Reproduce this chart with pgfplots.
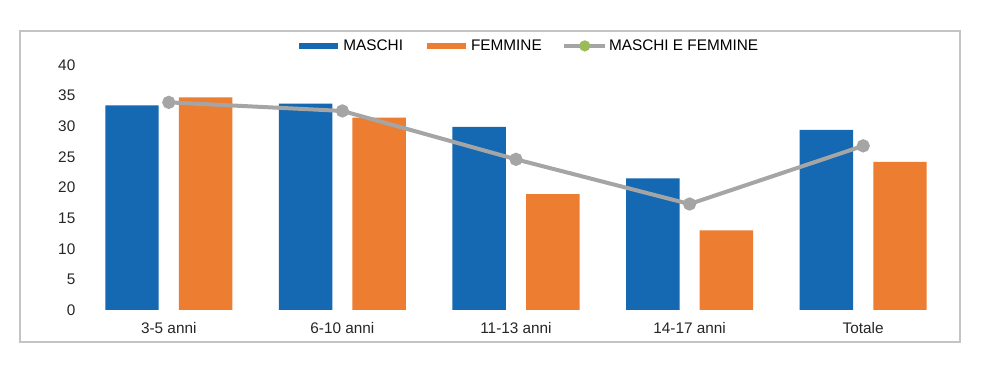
\documentclass[border=0pt]{standalone}
\usepackage{pgfplots}
\pgfplotsset{compat=1.18}
\usepackage{fontspec}
\setmainfont{Liberation Sans}
\definecolor{mblue}{RGB}{21,104,178}
\definecolor{forange}{RGB}{237,125,49}
\definecolor{lgray}{RGB}{165,165,165}
\definecolor{lgreen}{RGB}{155,187,89}
\definecolor{framegray}{RGB}{196,196,196}
\begin{document}
\begin{tikzpicture}
\path[use as bounding box] (0pt,0pt) rectangle (738pt,274.5pt);
\draw[framegray, line width=1.5pt, fill=white] (15pt,18pt) rectangle (720pt,251.25pt);
\begin{axis}[
  at={(61.5pt,42pt)}, anchor=south west,
  scale only axis, width=651pt, height=183.75pt,
  xmin=-0.5, xmax=4.5, ymin=0, ymax=40,
  xtick={0,1,2,3,4},
  xticklabels={3-5 anni,6-10 anni,11-13 anni,14-17 anni,Totale},
  ytick={0,5,10,15,20,25,30,35,40},
  axis line style={draw=none},
  major tick style={draw=none},
  /pgf/number format/assume math mode=true,
  tick label style={font=\fontsize{11.5}{13}\selectfont, text=black!85},
  yticklabel style={xshift=-1.5pt},
  xticklabel style={yshift=-5.5pt},
  legend style={draw=none, fill=none, at={(axis description cs:0.514,1.078)}, anchor=center,
    legend columns=3, font=\fontsize{11.5}{13}\selectfont,
    /tikz/every even column/.append style={column sep=14pt},
    nodes={inner sep=1.5pt}},
  legend cell align=left,
]
\addplot[ybar, bar width=0.308, bar shift=-0.212, fill=mblue, draw=none,
  legend image code/.code={\draw[line width=5pt, draw=mblue] (0pt,0pt) -- (29pt,0pt);}]
  coordinates {(0,33.4) (1,33.7) (2,29.9) (3,21.5) (4,29.4)};
\addlegendentry{MASCHI}
\addplot[ybar, bar width=0.308, bar shift=0.212, fill=forange, draw=none,
  legend image code/.code={\draw[line width=5pt, draw=forange] (0pt,0pt) -- (29pt,0pt);}]
  coordinates {(0,34.7) (1,31.4) (2,18.9) (3,13.0) (4,24.2)};
\addlegendentry{FEMMINE}
\addplot[lgray, line width=3pt, mark=*, mark size=3.4pt, mark options={fill=lgray, draw=lgray},
  legend image code/.code={\draw[line width=2.5pt, draw=lgray] (0pt,0pt) -- (31pt,0pt);
    \fill[lgreen] (15.5pt,0pt) circle (2.6pt);}]
  coordinates {(0,33.9) (1,32.5) (2,24.6) (3,17.3) (4,26.8)};
\addlegendentry{MASCHI E FEMMINE}
\end{axis}
\end{tikzpicture}
\end{document}
